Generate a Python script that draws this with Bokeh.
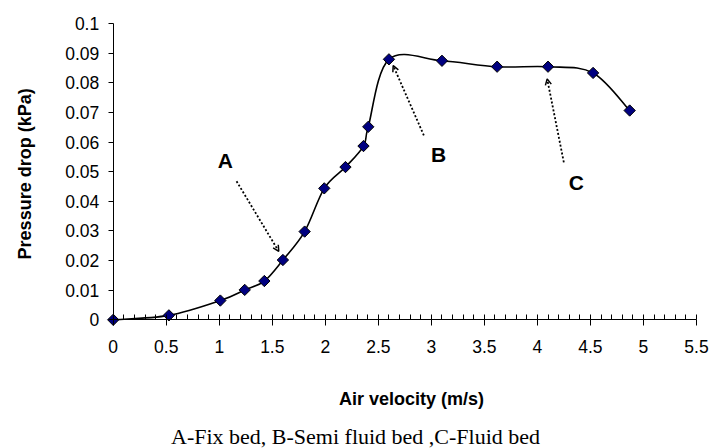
import numpy as np
from bokeh.plotting import figure
from bokeh.models import Range1d, FixedTicker, Label, Arrow, OpenHead
from bokeh.embed import file_html
from bokeh.resources import INLINE

# ---- data ----
velocity = [0, 0.525, 1.01, 1.24, 1.425, 1.6, 1.805, 1.99, 2.19, 2.36, 2.405,
            2.6, 3.1, 3.62, 4.1, 4.525, 4.87]
pressure = [0, 0.0015, 0.0065, 0.0101, 0.0131, 0.0202, 0.0298, 0.0444, 0.0516,
            0.0587, 0.0652, 0.0880, 0.0875, 0.0855, 0.0855, 0.0834, 0.0707]

x_ticks = [0, 0.5, 1, 1.5, 2, 2.5, 3, 3.5, 4, 4.5, 5, 5.5]
x_tick_labels = ["0", "0.5", "1", "1.5", "2", "2.5", "3", "3.5", "4", "4.5", "5", "5.5"]
x_minor_ticks = [i / 10 for i in range(56)]
y_ticks = [0, 0.01, 0.02, 0.03, 0.04, 0.05, 0.06, 0.07, 0.08, 0.09, 0.1]
y_tick_labels = ["0", "0.01", "0.02", "0.03", "0.04", "0.05", "0.06", "0.07", "0.08", "0.09", "0.1"]

stage_names = ["A", "B", "C"]
stage_label_x = [1.056, 3.067, 4.367]
stage_label_y = [0.0538, 0.0558, 0.0463]
arrow_x_start = [1.163, 2.929, 4.249]
arrow_y_start = [0.0468, 0.0623, 0.0532]
arrow_x_end = [1.561, 2.640, 4.092]
arrow_y_end = [0.0231, 0.0859, 0.0814]

x_title = "Air velocity (m/s)"
y_title = "Pressure drop (kPa)"
caption = "A-Fix bed, B-Semi fluid bed ,C-Fluid bed"

SANS = "Liberation Sans"
SERIF = "Liberation Serif"

# The plotting frame covers the whole canvas; axes sit at x=0 / y=0.
p = figure(width=712, height=448, output_backend="svg", toolbar_location=None,
           x_range=Range1d(-1.063, 5.651), y_range=Range1d(-0.04348, 0.10787),
           min_border=0, min_border_left=0, min_border_right=0,
           min_border_top=0, min_border_bottom=0)
p.outline_line_color = None
p.xgrid.visible = False
p.ygrid.visible = False
p.background_fill_color = "white"
p.border_fill_color = "white"

# ---- smoothed line (Catmull-Rom style Bezier through the data points) ----
xs = np.array(velocity, dtype=float)
ys = np.array(pressure, dtype=float)
n = len(xs)
px = np.concatenate([[xs[0]], xs, [xs[-1]]])
py = np.concatenate([[ys[0]], ys, [ys[-1]]])
x0 = xs[:-1]; y0 = ys[:-1]; x1 = xs[1:]; y1 = ys[1:]
cx0 = px[1:n] + (px[2:n + 1] - px[0:n - 1]) / 6.0
cy0 = py[1:n] + (py[2:n + 1] - py[0:n - 1]) / 6.0
cx1 = px[2:n + 1] - (px[3:n + 2] - px[1:n]) / 6.0
cy1 = py[2:n + 1] - (py[3:n + 2] - py[1:n]) / 6.0
p.bezier(x0=x0, y0=y0, x1=x1, y1=y1, cx0=cx0, cy0=cy0, cx1=cx1, cy1=cy1,
         line_color="black", line_width=1.6)

p.scatter(velocity, pressure, marker="square", size=8, angle=np.pi / 4,
          fill_color="#000080", line_color="black", line_width=1)

# ---- axes ----
xa = p.xaxis[0]
xa.fixed_location = 0
xa.bounds = (0, 5.5)
xa.ticker = FixedTicker(ticks=x_ticks, minor_ticks=x_minor_ticks)
xa.major_label_overrides = {t: l for t, l in zip(x_ticks, x_tick_labels)}
xa.major_tick_out = 6
xa.major_tick_in = 0
xa.minor_tick_in = 5
xa.minor_tick_out = 0
xa.major_label_standoff = 14
xa.major_label_text_font = SANS
xa.major_label_text_font_size = "17.5px"
xa.major_label_text_color = "black"
xa.axis_line_color = "black"
xa.major_tick_line_color = "black"
xa.minor_tick_line_color = "black"

ya = p.yaxis[0]
ya.fixed_location = 0
ya.bounds = (0, 0.1)
ya.ticker = FixedTicker(ticks=y_ticks, minor_ticks=[])
ya.major_label_overrides = {t: l for t, l in zip(y_ticks, y_tick_labels)}
ya.major_tick_out = 5
ya.major_tick_in = 0
ya.minor_tick_in = 0
ya.minor_tick_out = 0
ya.major_label_standoff = 9
ya.major_label_text_font = SANS
ya.major_label_text_font_size = "17.5px"
ya.major_label_text_color = "black"
ya.axis_line_color = "black"
ya.major_tick_line_color = "black"

# ---- titles and caption ----
p.add_layout(Label(x=2.813, y=-0.02676, text=x_title, text_align="center",
                   text_baseline="middle", text_font=SANS, text_font_size="18px",
                   text_font_style="bold", text_color="black"))
p.add_layout(Label(x=-0.830, y=0.0493, text=y_title, angle=np.pi / 2,
                   text_align="center", text_baseline="middle", text_font=SANS,
                   text_font_size="18px", text_font_style="bold", text_color="black"))
p.add_layout(Label(x=2.285, y=-0.03943, text=caption, text_align="center",
                   text_baseline="middle", text_font=SERIF, text_font_size="22px",
                   text_color="black"))

# ---- stage labels and dotted arrows ----
for name, lx, ly in zip(stage_names, stage_label_x, stage_label_y):
    p.add_layout(Label(x=lx, y=ly, text=name, text_align="center",
                       text_baseline="middle", text_font=SANS, text_font_size="21px",
                       text_font_style="bold", text_color="black"))
for xs0, ys0, xe, ye in zip(arrow_x_start, arrow_y_start, arrow_x_end, arrow_y_end):
    p.add_layout(Arrow(x_start=xs0, y_start=ys0, x_end=xe, y_end=ye,
                       line_color="black", line_width=1.8, line_dash="2 2",
                       end=OpenHead(size=6, line_width=1.5, line_color="black")))

open("out.html", "w").write(file_html(p, INLINE))
